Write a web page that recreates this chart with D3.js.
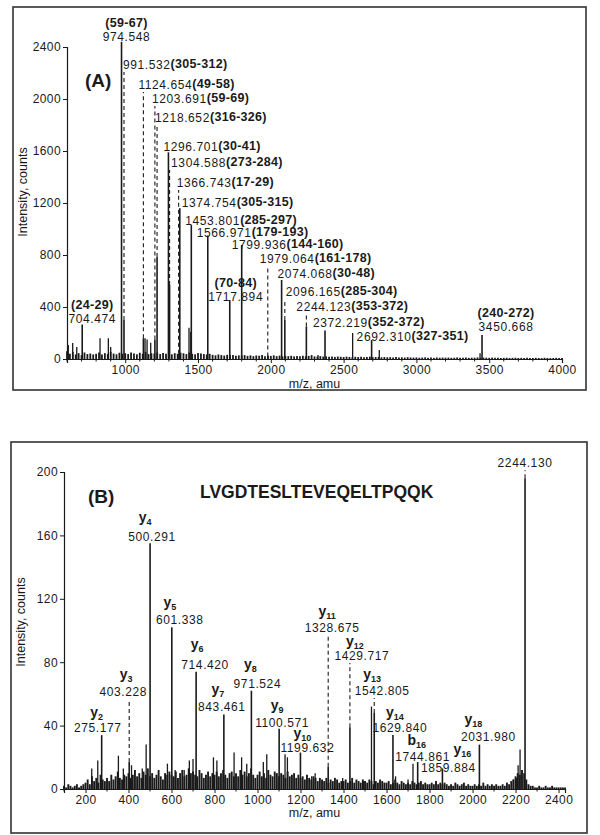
<!DOCTYPE html>
<html lang="en">
<head>
  <meta charset="UTF-8" />
  <title>MS spectra</title>
  <script src="https://d3js.org/d3.v7.min.js"></script>
  <style>
    body { margin: 0; background: #fff; }
    svg { display: block; font-family: "Liberation Sans", Arial, sans-serif; }
    text { fill: #1a1a1a; }
    .tick text { font-size: 12px; letter-spacing: 0.4px; }
    .tick line, .domain { stroke: #1a1a1a; }
  </style>
</head>
<body>
  <svg width="600" height="835"></svg>
  <script>
    // ---------- panel A: peptide mass map ----------
    const mzA       = [704.474, 974.548, 991.532, 1124.654, 1203.691, 1218.652, 1296.701, 1304.588, 1366.743, 1374.754,
                       1453.801, 1566.971, 1717.894, 1799.936, 1979.064, 2074.068, 2096.165, 2244.123, 2372.219, 2692.310, 3450.668];
    const intA      = [265, 2440, 300, 160, 150, 785, 1590, 570, 40, 1160,
                       1030, 950, 454, 877, 20, 608, 300, 250, 220, 146, 185];
    const labelAtA  = [277, 2446, 2231, 2077, 1969, 1823, 1600, 1477, 1323, 1169,
                       1031, 938, 446, 846, 738, 623, 485, 369, 246, 138, 215];
    const rangeA    = ["(24-29)", "(59-67)", "(305-312)", "(49-58)", "(59-69)", "(316-326)", "(30-41)", "(273-284)", "(17-29)", "(305-315)",
                       "(285-297)", "(179-193)", "(70-84)", "(144-160)", "(161-178)", "(30-48)", "(285-304)", "(353-372)", "(352-372)", "(327-351)", "(240-272)"];
    const minorA    = [[609, 108], [639, 123], [667, 92], [827, 160], [884, 160], [900, 92], [1136, 160], [1150, 150], [1175, 125],
                       [1438, 240], [1450, 210], [2324, 30], [2562, 200], [2745, 70], [3437, 45]];
    // baseline noise, one value every 20 m/z from 600
    const grassA = [60,40,55,35,45,30,50,38,42,35, 40,50,35,45,38,55,42,36,48,40,
                    45,38,50,42,36,48,40,55,38,44, 42,50,38,46,40,52,36,45,40,48,
                    44,38,50,40,36,46,42,38,35,40, 32,28,35,30,26,32,28,30,25,28,
                    26,30,24,28,22,27,25,30,22,26, 24,28,22,26,20,24,22,25,20,23,
                    22,25,20,24,30,20,18,22,19,20, 18,20,16,19,17,15,18,16,14,17,
                    15,17,14,16,18,14,15,16,13,15, 13,14,12,15,12,13,11,14,12,11,
                    12,10,11,13,10,11,9,12,10,11, 10,11,9,10,12,9,10,11,9,10,
                    10,12,9,11,10,9,11,10,9,8, 9,10,8,9,10,8,9,8,10,8,
                    8,9,8,7,9,8,7,8,9,8,8];
    const ticksXA = [1000, 1500, 2000, 2500, 3000, 3500, 4000];
    const ticksYA = [0, 400, 800, 1200, 1600, 2000, 2400];

    // label placement for A: "stack" = range above number, centred; else inline number+range
    const layoutA = [
      {stack: true, dx: 10}, {stack: true, dx: 5}, {dx: -1}, {dx: -5}, {dx: -3}, {dx: -2}, {dx: -5}, {dx: 1.5}, {dx: -2}, {dx: 2},
      {dx: -6}, {dx: -11}, {stack: true, dx: 6}, {dx: -10}, {dx: -8}, {dx: -4}, {dx: 1}, {dx: -10}, {dx: -12}, {dx: -15}, {stack: true, dx: 24}
    ];

    // ---------- panel B: MS/MS of LVGDTESLTEVEQELTPQQK ----------
    const mzB      = [275.177, 403.228, 500.291, 601.338, 714.420, 843.461, 971.524, 1100.571, 1199.632, 1328.675,
                      1429.717, 1542.805, 1629.840, 1744.861, 1859.884, 2031.980, 2244.130];
    const intB     = [34, 17, 155, 102, 74, 47, 62, 38, 23, 14, 39, 48, 34, 17, 13, 28, 196];
    const labelAtB = [36, 58.7, 156.5, 104, 75.7, 49.2, 63.7, 39.1, 23.3, 99, 81.4, 59.3, 36, 17.7, 10.7, 30.3, 203];
    const ionB     = [["y", "2"], ["y", "3"], ["y", "4"], ["y", "5"], ["y", "6"], ["y", "7"], ["y", "8"], ["y", "9"], ["y", "10"], ["y", "11"],
                      ["y", "12"], ["y", "13"], ["y", "14"], ["b", "16"], ["y", "16"], ["y", "18"], null];
    const minorB   = [[229, 13], [257, 18], [353, 21], [376, 13], [414, 15], [464, 13], [482, 28], [581, 16], [617, 12], [659, 12],
                      [683, 18], [700, 19], [795, 20], [811, 18], [891, 23], [926, 20], [950, 16], [1027, 17], [1043, 22], [1128, 22],
                      [1139, 20], [1252, 8], [1268, 10], [1396, 7], [1493, 5], [1530, 52], [1642, 8], [1700, 6], [1723, 16],
                      [2190, 6], [2205, 7], [2212, 15], [2221, 25]];
    // baseline noise, one value every 10 m/z from 100
    const grassB = [2,1,3,2,1,2,3,1,2,3, 4,6,3,8,5,7,4,9,6,5, 7,5,9,6,8,11,7,6,9,8, 10,7,9,12,8,10,7,11,9,13,
                    8,10,7,9,12,8,6,10,9,11, 9,8,11,7,10,12,8,9,13,10, 11,9,8,12,10,7,9,11,8,10, 9,11,8,10,12,9,7,10,11,8,
                    10,8,12,9,11,8,10,13,9,7, 9,11,8,10,7,12,9,8,11,10, 8,10,9,7,11,8,9,10,7,9, 7,8,6,9,7,6,8,7,5,7,
                    6,5,7,4,6,5,7,6,4,5, 5,6,4,5,7,4,6,5,4,6, 5,4,6,5,3,5,4,6,5,4, 4,5,3,4,6,4,3,5,4,3,
                    4,3,5,4,3,4,5,3,4,3, 3,4,3,5,3,4,3,4,3,2, 3,2,4,3,2,3,4,2,3,2, 2,3,2,3,2,4,2,3,2,3,
                    2,3,2,2,3,2,4,3,5,6, 8,10,9,12,10,6,3,2,2,1, 1,2,1,1,2,1,1,2,1,1, 1,1,1,1];
    const ticksXB = [200, 400, 600, 800, 1000, 1200, 1400, 1600, 1800, 2000, 2200, 2400];
    const ticksYB = [0, 40, 80, 120, 160, 200];

    // label placement for B: number centre offset, ion label centre offset and its rise above the number
    const layoutB = [
      {dx: -4, ix: -5, iy: -15}, {dx: -6, ix: -3, iy: -17}, {dx: 2, ix: -5, iy: -19}, {dx: 8, ix: -2, iy: -17},
      {dx: 9, ix: 1, iy: -20}, {dx: -2, ix: -6, iy: -17}, {dx: 6, ix: -1, iy: -19}, {dx: 3, ix: -2, iy: -17},
      {dx: 7, ix: 2, iy: -14}, {dx: 4, ix: -1, iy: -16}, {dx: 12, ix: 5, iy: -14}, {dx: 8, ix: -2, iy: -16},
      {dx: 7, ix: 2, iy: -15}, {dx: 5, ix: -1, iy: -16}, {dx: 6, ix: 20, iy: -18}, {dx: 9, ix: -6, iy: -17}, {dx: 0}
    ];

    const svg = d3.select("svg");
    const ink = "#1a1a1a";

    function panel(o) {
      const g = svg.append("g");
      const x = d3.scaleLinear().domain(o.xDomain).range(o.xRange);
      const y = d3.scaleLinear().domain(o.yDomain).range(o.yRange);

      g.append("rect")
        .attr("x", o.frame[0]).attr("y", o.frame[1])
        .attr("width", o.frame[2]).attr("height", o.frame[3])
        .attr("fill", "none").attr("stroke", "#333").attr("stroke-width", 1.6);

      // noise
      g.append("g").selectAll("line")
        .data(o.grass.map((v, i) => [o.grassStart + i * o.grassStep, v]))
        .join("line")
        .attr("x1", d => x(d[0])).attr("x2", d => x(d[0]))
        .attr("y1", y(0)).attr("y2", d => y(d[1]))
        .attr("stroke", ink).attr("stroke-width", o.grassWidth);

      g.append("g").selectAll("line")
        .data(o.minor)
        .join("line")
        .attr("x1", d => x(d[0])).attr("x2", d => x(d[0]))
        .attr("y1", y(0)).attr("y2", d => y(d[1]))
        .attr("stroke", ink).attr("stroke-width", 1.3);

      const peaks = o.mz.map((m, i) => ({mz: m, int: o.int[i], at: o.labelAt[i], i}));

      g.append("g").selectAll("line")
        .data(peaks)
        .join("line")
        .attr("x1", d => x(d.mz)).attr("x2", d => x(d.mz))
        .attr("y1", y(0)).attr("y2", d => y(d.int))
        .attr("stroke", ink).attr("stroke-width", 1.6);

      // dashed leaders from peak tip up to its label
      g.append("g").selectAll("line")
        .data(peaks.filter(d => y(d.int) - (y(d.at) + 3) > 5))
        .join("line")
        .attr("x1", d => x(d.mz)).attr("x2", d => x(d.mz))
        .attr("y1", d => y(d.int)).attr("y2", d => y(d.at) + 3)
        .attr("stroke", ink).attr("stroke-width", 1.1)
        .attr("stroke-dasharray", "4,3");

      // axes
      const ax = g.append("g")
        .attr("transform", `translate(0,${o.yRange[0]})`)
        .call(d3.axisBottom(x).tickValues(o.ticksX).tickSize(4).tickPadding(2).tickFormat(d3.format("d")));
      ax.select(".domain").attr("stroke-width", 1.2);
      g.append("g")
        .attr("transform", `translate(0,${o.yRange[0]})`)
        .selectAll("line")
        .data(d3.range(Math.ceil(o.xDomain[0] / 100) * 100, o.xDomain[1] + 1, 100).filter(v => !o.ticksX.includes(v)))
        .join("line")
        .attr("x1", d => x(d)).attr("x2", d => x(d))
        .attr("y1", 0).attr("y2", 2.5)
        .attr("stroke", ink);

      const ay = g.append("g")
        .attr("transform", `translate(${o.xRange[0]},0)`)
        .call(d3.axisLeft(y).tickValues(o.ticksY).tickSize(4).tickPadding(2).tickFormat(d3.format("d")));
      ay.select(".domain").attr("stroke-width", 1.2);

      g.append("text")
        .attr("transform", `translate(${o.yTitleX},${o.yTitleY}) rotate(-90)`)
        .attr("text-anchor", "middle")
        .attr("font-size", 12.5)
        .text("Intensity, counts");
      g.append("text")
        .attr("x", (o.xRange[0] + o.xRange[1]) / 2).attr("y", o.xTitleY)
        .attr("text-anchor", "middle")
        .attr("font-size", 12.5)
        .text("m/z, amu");

      g.append("text")
        .attr("x", o.tag[1]).attr("y", o.tag[2])
        .attr("font-size", 19).attr("font-weight", "bold")
        .text(o.tag[0]);

      return {g, x, y, peaks};
    }

    // ----- draw A -----
    const A = panel({
      xDomain: [600, 4000], xRange: [67, 562],
      yDomain: [0, 2400], yRange: [359, 47],
      frame: [13, 7, 573, 383],
      mz: mzA, int: intA, labelAt: labelAtA,
      minor: minorA, grass: grassA, grassStart: 600, grassStep: 20, grassWidth: 1.8,
      ticksX: ticksXA, ticksY: ticksYA,
      yTitleX: 27, yTitleY: 192, xTitleY: 388,
      tag: ["(A)", 85, 87]
    });

    A.peaks.forEach(d => {
      const L = layoutA[d.i];
      const px = A.x(d.mz) + L.dx, py = A.y(d.at);
      if (L.stack) {
        A.g.append("text").attr("x", px).attr("y", py).attr("text-anchor", "middle")
          .attr("font-size", 12).attr("letter-spacing", 0.6).text(d.mz.toFixed(3));
        A.g.append("text").attr("x", px).attr("y", py - 14).attr("text-anchor", "middle")
          .attr("font-size", 12.5).attr("font-weight", "bold").attr("letter-spacing", 0.3).text(rangeA[d.i]);
      } else {
        const t = A.g.append("text").attr("x", px).attr("y", py);
        t.append("tspan").attr("font-size", 12).attr("letter-spacing", 0.6).text(d.mz.toFixed(3));
        t.append("tspan").attr("font-size", 12.5).attr("font-weight", "bold").attr("dy", -1).attr("letter-spacing", 0.3).text(rangeA[d.i]);
      }
    });

    // ----- draw B -----
    const B = panel({
      xDomain: [100, 2430], xRange: [64, 565],
      yDomain: [0, 200], yRange: [789, 472],
      frame: [11, 442, 576, 391],
      mz: mzB, int: intB, labelAt: labelAtB,
      minor: minorB, grass: grassB, grassStart: 100, grassStep: 10, grassWidth: 1.9,
      ticksX: ticksXB, ticksY: ticksYB,
      yTitleX: 25, yTitleY: 622, xTitleY: 817,
      tag: ["(B)", 88, 503]
    });

    B.g.append("text")
      .attr("x", 200).attr("y", 498)
      .attr("font-size", 17.5).attr("font-weight", "bold")
      .text("LVGDTESLTEVEQELTPQQK");

    B.peaks.forEach(d => {
      const L = layoutB[d.i];
      const cx = B.x(d.mz), py = B.y(d.at);
      B.g.append("text").attr("x", cx + L.dx).attr("y", py).attr("text-anchor", "middle")
        .attr("font-size", 12).attr("letter-spacing", 0.6).text(d.mz.toFixed(3));
      const ion = ionB[d.i];
      if (ion) {
        const t = B.g.append("text").attr("x", cx + L.ix).attr("y", py + L.iy)
          .attr("text-anchor", "middle").attr("font-weight", "bold");
        t.append("tspan").attr("font-size", 14).text(ion[0]);
        t.append("tspan").attr("font-size", 9).attr("dy", 3).text(ion[1]);
      }
    });
  </script>
</body>
</html>
